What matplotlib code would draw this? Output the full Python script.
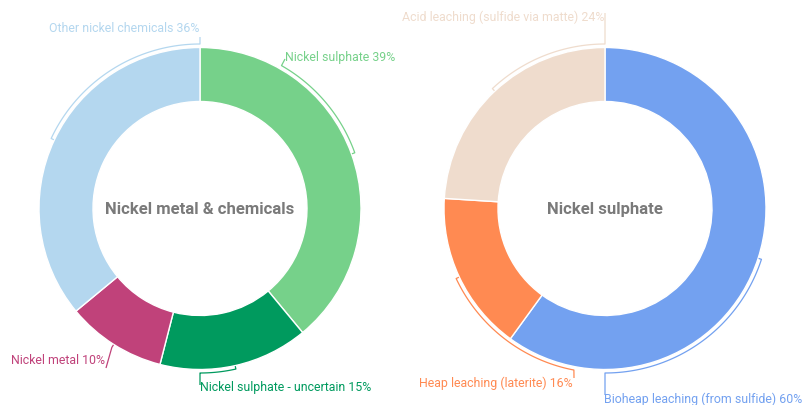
import numpy as np
import matplotlib.pyplot as plt
from matplotlib.patches import Wedge

plt.rcParams['font.family'] = ['Roboto', 'DejaVu Sans']

# left donut
left_title = 'Nickel metal & chemicals'
left_names = ['Nickel sulphate', 'Nickel sulphate - uncertain', 'Nickel metal', 'Other nickel chemicals']
left_values = [39, 15, 10, 36]
left_colors = ['#76d18a', '#009a5e', '#c0427a', '#b4d7ef']

# right donut
right_title = 'Nickel sulphate'
right_names = ['Bioheap leaching (from sulfide)', 'Heap leaching (laterite)', 'Acid leaching (sulfide via matte)']
right_values = [60, 16, 24]
right_colors = ['#73a1f0', '#ff8a52', '#efdccd']

R = 161
WIDTH = 54

# label layout in pixels: (anchor angle clockwise from top or None = slice middle,
#                          leader end x, y, text x, y, ha)
left_layout = [
    (29.7, 285, 59, 285, 58, 'left'),
    (180, 200, 385, 200, 388, 'left'),
    (None, 106, 368, 105, 360, 'right'),
    (360, 200, 37, 199, 29, 'right'),
]
right_layout = [
    (180, 605, 395, 604, 399, 'left'),
    (190.9, 574, 378, 573, 383, 'right'),
    (360, 605, 13, 604, 17, 'right'),
]


def polar(cx, cy, r, a):
    a = np.radians(a)
    return cx + r * np.sin(a), cy - r * np.cos(a)


def donut(ax, cx, cy, title, names, values, colors, layout):
    total = sum(values)
    start = 0.0
    for name, v, c, lay in zip(names, values, colors, layout):
        sweep = 360.0 * v / total
        a0, a1 = start, start + sweep
        ax.add_patch(Wedge((cx, cy), R, a0 - 90, a1 - 90, width=WIDTH,
                           facecolor=c, edgecolor='white', linewidth=1))
        mid = (a0 + a1) / 2
        anchor, lx, ly, tx, ty, ha = lay
        if anchor is None:
            anchor = mid
        pts = [polar(cx, cy, R + 0.5, mid)]
        for a in np.linspace(mid, anchor, 60):
            pts.append(polar(cx, cy, R + 3.5, a))
        pts.append((lx, ly))
        xs, ys = zip(*pts)
        ax.plot(xs, ys, color=c, lw=0.9, solid_capstyle='butt')
        ax.text(tx, ty, f'{name} {v}%', color=c, fontsize=8.9, ha=ha, va='center')
        start = a1
    ax.text(cx, cy + 1, title, color='#7a7a7a', fontsize=12, fontweight='bold',
            ha='center', va='center')


fig = plt.figure(figsize=(8.06, 4.05), dpi=100)
ax = fig.add_axes([0, 0, 1, 1])
ax.set_xlim(0, 806)
ax.set_ylim(405, 0)
ax.axis('off')

donut(ax, 200, 208.5, left_title, left_names, left_values, left_colors, left_layout)
donut(ax, 605, 208.5, right_title, right_names, right_values, right_colors, right_layout)

fig.savefig('out.png', dpi=100)
